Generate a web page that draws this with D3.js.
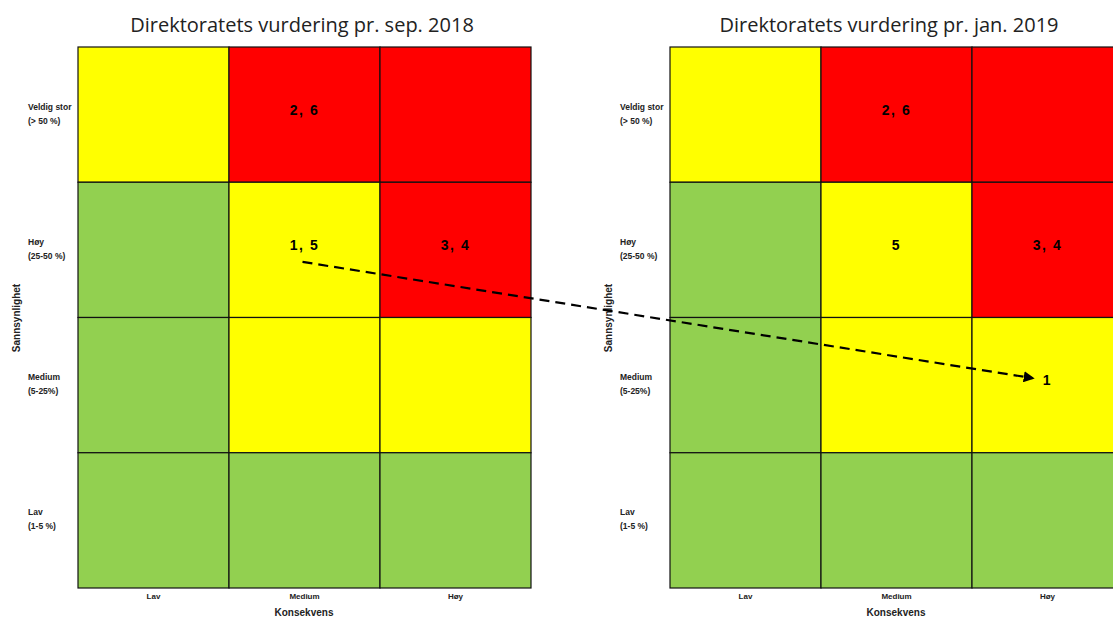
<!DOCTYPE html>
<html>
<head>
<meta charset="utf-8">
<script src="https://cdn.jsdelivr.net/npm/d3@7"></script>
<style>
  body { margin: 0; background: #fff; }
  svg { display: block; font-family: "Liberation Sans", Arial, sans-serif; }
</style>
</head>
<body>
<svg id="chart" width="1113" height="619"></svg>
<script>
// consequence (columns) and probability (rows, top to bottom)
const konsekvens = ["Lav", "Medium", "Høy"];
const sannsynlighet = ["Veldig stor", "Høy", "Medium", "Lav"];
const sannsynlighetRange = ["(> 50 %)", "(25-50 %)", "(5-25%)", "(1-5 %)"];

// risk level per row (top to bottom), per column
const riskLevels = [
    ["gul", "rod", "rod"],
    ["gronn", "gul", "rod"],
    ["gronn", "gul", "gul"],
    ["gronn", "gronn", "gronn"]
];

const titles = ["Direktoratets vurdering pr. sep. 2018", "Direktoratets vurdering pr. jan. 2019"];

// risk ids placed in the matrix, one list per assessment
const sep2018 = [
    { k: "Medium", s: "Veldig stor", text: "2, 6" },
    { k: "Medium", s: "Høy", text: "1, 5" },
    { k: "Høy", s: "Høy", text: "3, 4" }
];
const jan2019 = [
    { k: "Medium", s: "Veldig stor", text: "2, 6" },
    { k: "Medium", s: "Høy", text: "5" },
    { k: "Høy", s: "Høy", text: "3, 4" },
    { k: "Høy", s: "Medium", text: "1" }
];

// risk 1 moved from (Medium, Høy) to (Høy, Medium)
const movement = { from: { k: "Medium", s: "Høy" }, to: { k: "Høy", s: "Medium" } };

const colors = { gul: "#ffff00", rod: "#ff0000", gronn: "#92d050" };

const svg = d3.select("#chart");

svg.append("defs").append("marker")
    .attr("id", "arrow")
    .attr("viewBox", "0 0 10 10")
    .attr("refX", 8).attr("refY", 5)
    .attr("markerWidth", 5).attr("markerHeight", 5)
    .attr("orient", "auto")
    .append("path")
    .attr("d", "M0,0 L10,5 L0,10 Z")
    .attr("fill", "#000");

function drawPanel(left, titleX, title, labels) {
    const x = d3.scaleBand().domain(konsekvens).range([left, left + 453]);
    const y = d3.scaleBand().domain(sannsynlighet).range([47, 588]);
    const g = svg.append("g");

    g.append("text")
        .attr("x", titleX).attr("y", 32)
        .attr("text-anchor", "middle")
        .attr("font-family", "'Open Sans', sans-serif")
        .attr("font-size", 20)
        .attr("fill", "#222")
        .text(title);

    const cells = [];
    sannsynlighet.forEach((s, i) => {
        konsekvens.forEach((k, j) => cells.push({ s: s, k: k, level: riskLevels[i][j] }));
    });

    g.selectAll("rect.cell").data(cells).enter()
        .append("rect")
        .attr("class", "cell")
        .attr("x", d => x(d.k)).attr("y", d => y(d.s))
        .attr("width", x.bandwidth()).attr("height", y.bandwidth())
        .attr("fill", d => colors[d.level])
        .attr("stroke", "#111").attr("stroke-width", 1.2);

    g.selectAll("text.risk").data(labels).enter()
        .append("text")
        .attr("class", "risk")
        .attr("x", d => x(d.k) + x.bandwidth() / 2)
        .attr("y", d => y(d.s) + y.bandwidth() / 2)
        .attr("text-anchor", "middle")
        .attr("font-weight", "bold")
        .attr("font-size", 14)
        .attr("letter-spacing", 1.5)
        .text(d => d.text);

    // row labels
    const rowLab = g.selectAll("text.row").data(sannsynlighet).enter()
        .append("text")
        .attr("class", "row")
        .attr("x", left - 50)
        .attr("y", d => y(d) + y.bandwidth() / 2 - 5)
        .attr("font-size", 8.5)
        .attr("font-weight", "bold")
        .attr("fill", "#222");
    rowLab.append("tspan").text(d => d);
    rowLab.append("tspan").attr("x", left - 50).attr("dy", 14)
        .text((d, i) => sannsynlighetRange[i]);

    g.append("text")
        .attr("transform", `translate(${left - 58},${y.range()[0] + 271}) rotate(-90)`)
        .attr("text-anchor", "middle")
        .attr("font-size", 10)
        .attr("font-weight", "bold")
        .attr("fill", "#222")
        .text("Sannsynlighet");

    g.selectAll("text.col").data(konsekvens).enter()
        .append("text")
        .attr("class", "col")
        .attr("x", d => x(d) + x.bandwidth() / 2)
        .attr("y", 599)
        .attr("text-anchor", "middle")
        .attr("font-size", 8)
        .attr("font-weight", "bold")
        .attr("fill", "#222")
        .text(d => d);

    g.append("text")
        .attr("x", left + 226).attr("y", 616)
        .attr("text-anchor", "middle")
        .attr("font-size", 10)
        .attr("font-weight", "bold")
        .attr("fill", "#222")
        .text("Konsekvens");

    return { x: x, y: y };
}

const p1 = drawPanel(78, 302, titles[0], sep2018);
const p2 = drawPanel(670, 889, titles[1], jan2019);

const x1 = p1.x(movement.from.k) + p1.x.bandwidth() / 2 - 2;
const y1 = p1.y(movement.from.s) + p1.y.bandwidth() / 2 + 12;
const x2 = p2.x(movement.to.k) + p2.x.bandwidth() / 2 - 15;
const y2 = p2.y(movement.to.s) + p2.y.bandwidth() / 2 - 7;

svg.append("line")
    .attr("x1", x1).attr("y1", y1)
    .attr("x2", x2).attr("y2", y2)
    .attr("stroke", "#000")
    .attr("stroke-width", 2.2)
    .attr("stroke-dasharray", "10,6")
    .attr("marker-end", "url(#arrow)");
</script>
</body>
</html>
